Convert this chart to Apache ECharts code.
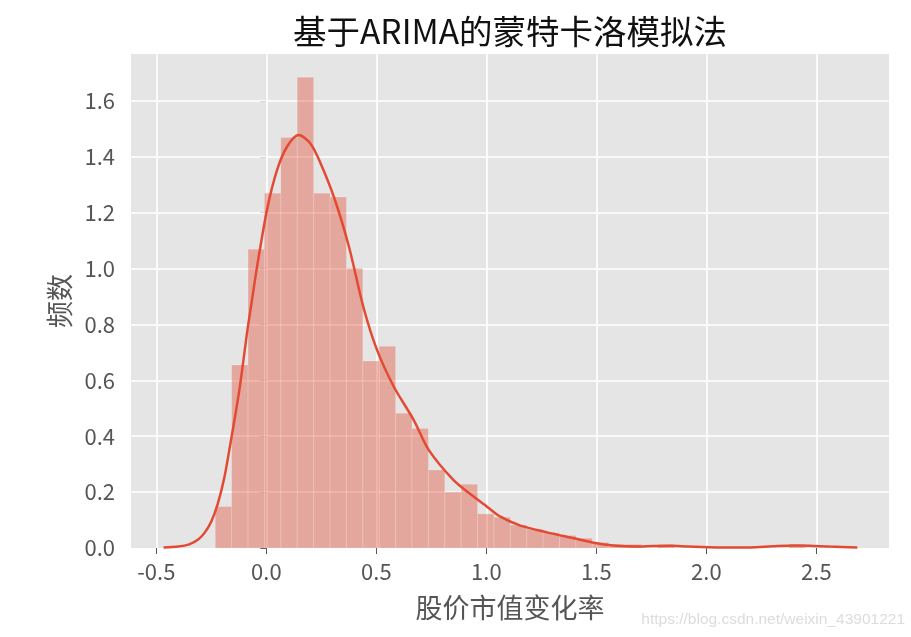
<!DOCTYPE html>
<html>
<head>
<meta charset="utf-8">
<script src="https://cdn.jsdelivr.net/npm/echarts@6/dist/echarts.min.js"></script>
<style>html,body{margin:0;padding:0;background:#fff}#c{width:911px;height:637px}</style>
</head>
<body>
<div id="c"></div>
<script>
// ---- data ----
const titleText = '基于ARIMA的蒙特卡洛模拟法';
const xName = '股价市值变化率';
const yName = '频数';
const watermark = 'https://blog.csdn.net/weixin_43901221';
const xTicks = [-0.5, 0.0, 0.5, 1.0, 1.5, 2.0, 2.5];
const yTicks = [0.0, 0.2, 0.4, 0.6, 0.8, 1.0, 1.2, 1.4, 1.6];
const binStart = -0.232;
const binWidth = 0.0745;
const binHeights = [0.148, 0.655, 1.069, 1.270, 1.469, 1.685, 1.270, 1.256, 1.001, 0.669,
  0.722, 0.482, 0.428, 0.279, 0.200, 0.228, 0.122, 0.110, 0.082, 0.067,
  0.055, 0.045, 0.035, 0.020, 0.013, 0.013, 0, 0.013, 0, 0,
  0, 0, 0, 0, 0, 0.013];
const kdeX = [-0.467, -0.40, -0.35, -0.31, -0.28, -0.25, -0.22, -0.19, -0.164, -0.14,
  -0.118, -0.088, -0.065, -0.042, 0.003, 0.049, 0.094, 0.147, 0.2, 0.245,
  0.31, 0.375, 0.442, 0.503, 0.579, 0.67, 0.738, 0.851, 0.942, 1.003,
  1.064, 1.155, 1.276, 1.397, 1.488, 1.579, 1.68, 1.76, 1.836, 1.92,
  2.05, 2.2, 2.30, 2.40, 2.47, 2.56, 2.686];
const kdeY = [0.002, 0.005, 0.013, 0.03, 0.055, 0.095, 0.16, 0.255, 0.37, 0.48,
  0.589, 0.768, 0.888, 1.007, 1.21, 1.353, 1.436, 1.478, 1.448, 1.38,
  1.25, 1.08, 0.86, 0.709, 0.578, 0.458, 0.351, 0.243, 0.184, 0.148,
  0.112, 0.08, 0.056, 0.035, 0.019, 0.009, 0.005, 0.007, 0.008, 0.005,
  0.002, 0.002, 0.006, 0.009, 0.008, 0.005, 0.002];

// ---- build ----
const histData = binHeights.map((h, i) => [binStart + i * binWidth, binStart + (i + 1) * binWidth, h]);
const kdeData = kdeX.map((x, i) => [x, kdeY[i]]);
const FONT = '"Noto Sans CJK SC", "Noto Sans", sans-serif';

const chart = echarts.init(document.getElementById('c'));
chart.setOption({
  animation: false,
  backgroundColor: '#ffffff',
  grid: { left: 131, right: 22, top: 54, bottom: 89, show: true, backgroundColor: '#E5E5E5', borderWidth: 0 },
  graphic: [
    { type: 'text', x: 510, y: 31, style: { text: titleText, font: '33.5px ' + FONT, fill: '#111', textAlign: 'center', textVerticalAlign: 'middle' } },
    { type: 'text', x: 905, y: 620, style: { text: watermark, font: '15.5px "Liberation Sans", Arial, sans-serif', fill: '#dcdcdc', textAlign: 'right', textVerticalAlign: 'middle' } }
  ],
  xAxis: {
    type: 'value', min: -0.615, max: 2.83,
    name: xName, nameLocation: 'middle', nameGap: 46,
    nameTextStyle: { fontFamily: FONT, fontSize: 27, color: '#555' },
    axisLine: { show: false },
    axisTick: { show: true, customValues: xTicks, length: 6, lineStyle: { color: '#555', width: 1 } },
    axisLabel: { customValues: xTicks, margin: 13, fontFamily: FONT, fontSize: 22, color: '#555', formatter: v => v.toFixed(1) },
    splitLine: { show: false }
  },
  yAxis: {
    type: 'value', min: 0, max: 1.768,
    name: yName, nameLocation: 'middle', nameGap: 56, nameRotate: 90,
    nameTextStyle: { fontFamily: FONT, fontSize: 27, color: '#555' },
    axisLine: { show: false },
    axisTick: { show: true, customValues: yTicks, length: 6, lineStyle: { color: '#555', width: 1 } },
    axisLabel: { customValues: yTicks, margin: 16, fontFamily: FONT, fontSize: 22, color: '#555', formatter: v => v.toFixed(1) },
    splitLine: { show: false }
  },
  series: [
    {
      type: 'line', data: [], z: 1, silent: true,
      markLine: {
        z: 1,
        silent: true, symbol: ['none', 'none'], label: { show: false },
        lineStyle: { color: '#ffffff', width: 1.6, type: 'solid' },
        emphasis: { disabled: true },
        data: xTicks.map(v => ({ xAxis: v })).concat(yTicks.filter(v => v > 0).map(v => ({ yAxis: v })))
      }
    },
    {
      type: 'custom', z: 10, silent: true,
      data: histData,
      encode: { x: [0, 1], y: 2 },
      renderItem: function (params, api) {
        const p0 = api.coord([api.value(0), api.value(2)]);
        const p1 = api.coord([api.value(1), 0]);
        return {
          type: 'rect',
          shape: { x: p0[0], y: p0[1], width: p1[0] - p0[0], height: p1[1] - p0[1] },
          style: { fill: 'rgba(226,74,51,0.4)', stroke: 'rgba(255,255,255,0.22)', lineWidth: 0.8 }
        };
      }
    },
    {
      type: 'line', z: 11, data: kdeData, smooth: 0.3, showSymbol: false, silent: true,
      lineStyle: { color: '#E24A33', width: 2.5 }
    }
  ]
});
</script>
</body>
</html>
